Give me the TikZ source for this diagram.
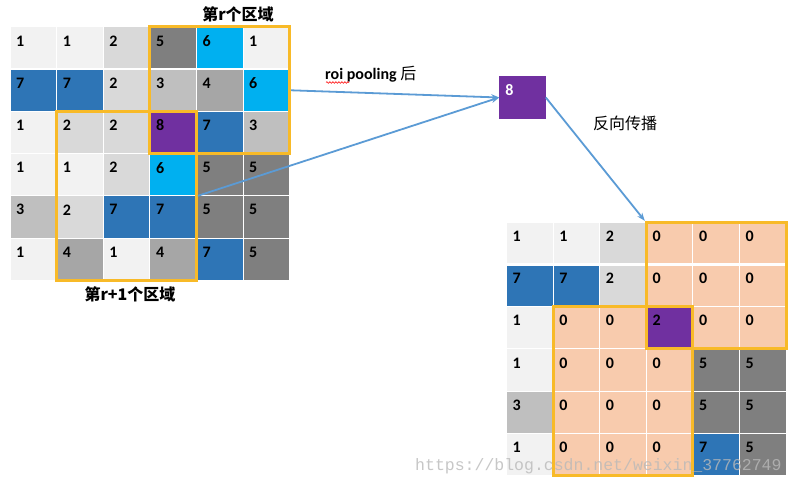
\documentclass[tikz,border=0pt]{standalone}
\usepackage{fontspec}
\setmainfont{Carlito}
\newfontfamily\cjk{Noto Sans CJK SC}
\newfontfamily\wmfont{Liberation Mono}
\usetikzlibrary{arrows.meta,fit,decorations.pathmorphing}
\definecolor{c0}{HTML}{F8CBAD}
\definecolor{c1}{HTML}{F2F2F2}
\definecolor{c2}{HTML}{D9D9D9}
\definecolor{c3}{HTML}{BFBFBF}
\definecolor{c4}{HTML}{A6A6A6}
\definecolor{c5}{HTML}{7F7F7F}
\definecolor{c6}{HTML}{00B0F0}
\definecolor{c7}{HTML}{2E75B6}
\definecolor{c8}{HTML}{7030A0}
\definecolor{orng}{RGB}{248,186,40}
\definecolor{arr}{HTML}{5B9BD5}
\begin{document}
\begin{tikzpicture}[x=1pt,y=-1pt,
  cell/.style={rectangle,draw=white,line width=1pt,minimum width=46.6pt,minimum height=42.2pt,inner sep=0pt,outer sep=0pt},
  num/.style={anchor=west,inner sep=0pt,font=\fontsize{16}{16}\selectfont\bfseries},
  obox/.style={draw=orng,line width=3pt,inner sep=0pt,rectangle},
  arrowst/.style={draw=arr,line width=1.8pt,-{Stealth[length=8pt,width=6pt]}},
  lbl/.style={inner sep=0pt,font=\fontsize{16}{16}\selectfont\cjk\bfseries},
]
\useasboundingbox (0,0) rectangle (796,487);
\fill[white] (0,0) rectangle (796,487);
% left grid
\foreach \vals [count=\r] in {{1/1,1/1,2/2,5/5,6/6,1/1},{7/7,7/7,2/2,3/3,4/4,6/6},{1/1,2/2,2/2,8/8,7/7,3/3},{1/1,1/1,2/2,6/6,5/5,5/5},{3/3,2/2,7/7,7/7,5/5,5/5},{1/1,4/4,1/1,4/4,7/7,5/5}}{
  \foreach \k/\v [count=\c] in \vals {
    \node[cell,fill=c\k] (L-\r-\c) at ({10+(\c-0.5)*46.6},{27+(\r-0.5)*42.2}) {};
    \node[num] at ([xshift=6pt,yshift=-14pt]L-\r-\c.north west) {\v};
  }
}
% right grid
\foreach \vals [count=\r] in {{1/1,1/1,2/2,0/0,0/0,0/0},{7/7,7/7,2/2,0/0,0/0,0/0},{1/1,0/0,0/0,8/2,0/0,0/0},{1/1,0/0,0/0,0/0,5/5,5/5},{3/3,0/0,0/0,0/0,5/5,5/5},{1/1,0/0,0/0,0/0,7/7,5/5}}{
  \foreach \k/\v [count=\c] in \vals {
    \node[cell,fill=c\k] (R-\r-\c) at ({506.5+(\c-0.5)*46.6},{222.3+(\r-0.5)*42.2}) {};
    \node[num] at ([xshift=6pt,yshift=-14pt]R-\r-\c.north west) {\v};
  }
}
\draw[white,line width=2.5pt] (L-1-1.south west) -- (L-1-6.south east);
\draw[white,line width=2.5pt] (R-1-1.south west) -- (R-1-6.south east);
% orange regions
\node[obox,fit=(L-1-4)(L-3-6)] (rL) {};
\node[obox,fit=(L-3-2)(L-6-4)] (r1L) {};
\node[obox,fit=(L-3-4)] (pL) {};
\node[obox,fit=(R-1-4)(R-3-6)] (rR) {};
\node[obox,fit=(R-3-2)(R-6-4)] (r1R) {};
\node[obox,fit=(R-3-4)] (pR) {};
% pooled box
\node[cell,draw=none,fill=c8,minimum height=43pt] (box8) at (522.5,97.5) {};
\node[num,text=white] at ([xshift=6pt,yshift=-14pt]box8.north west) {8};
% labels
\node[lbl] (t1) at (238,14) {第r个区域};
\node[lbl] (t2) at (130,294) {第r+1个区域};
\node[anchor=west,inner sep=0pt] (roi) at (325,74) {\fontsize{16}{16}\selectfont\bfseries roi pooling {\cjk\mdseries 后}};
\draw[red,line width=0.6pt,decorate,decoration={snake,amplitude=0.8pt,segment length=3pt}] (326,82.5) -- (349,82.5);
\node[inner sep=0pt,font=\fontsize{16}{16}\selectfont\cjk] (bp) at (625,123) {反向传播};
% arrows
\draw[arrowst] (rL.east) -- (box8.west);
\draw[arrowst] (r1L.east) -- (box8.west);
\draw[arrowst] (box8.east) -- (rR.north west);
% watermark
\node[anchor=west,inner sep=0pt,text=gray!55,opacity=0.8,font=\fontsize{16.5}{16.5}\selectfont\wmfont] (wm) at (415,466) {https://blog.csdn.net/weixin\_37762749};
\end{tikzpicture}
\end{document}
